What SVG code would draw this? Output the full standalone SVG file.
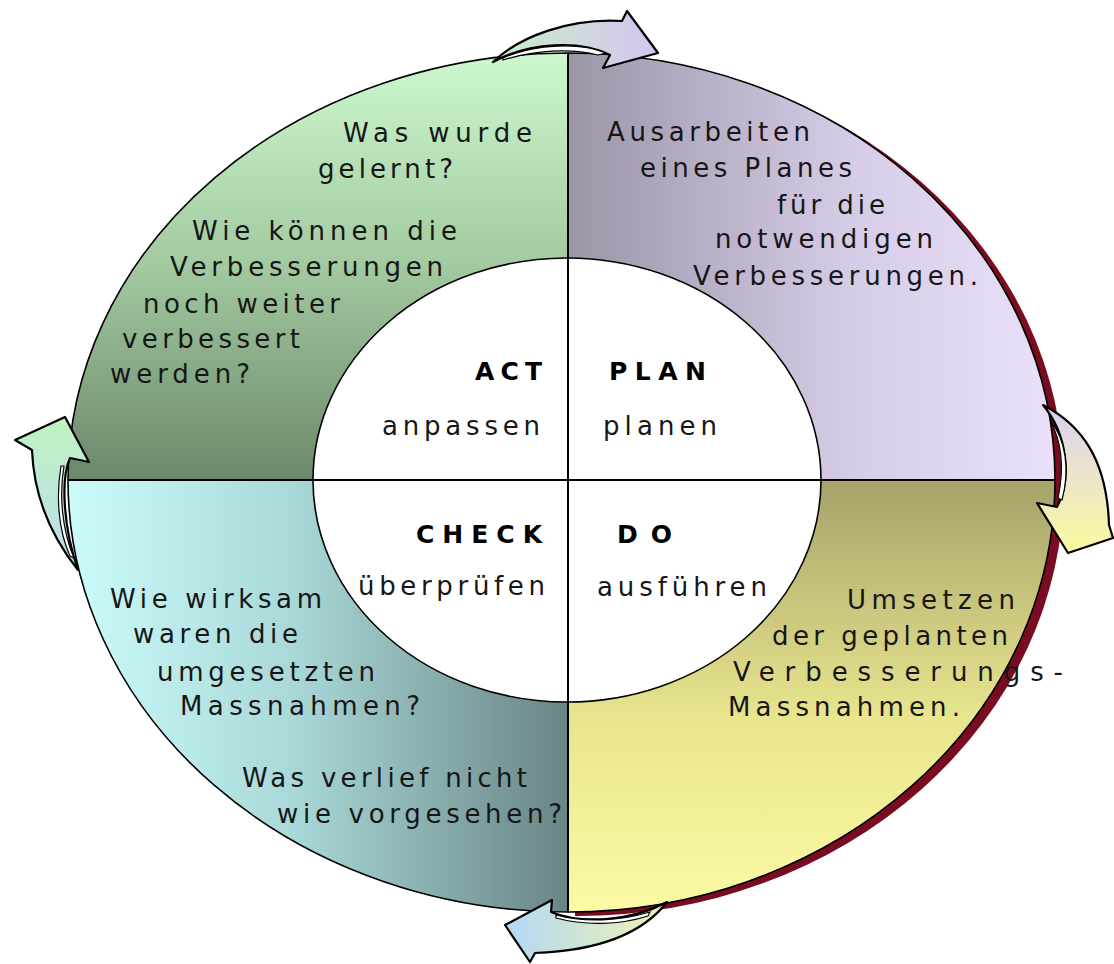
<svg xmlns="http://www.w3.org/2000/svg" width="1114" height="964" viewBox="0 0 1114 964">
<style>
.q{stroke:#000;stroke-width:1.6;stroke-linejoin:round}
.div{stroke:#000;stroke-width:2;fill:none}
.t{font-family:"DejaVu Sans","Liberation Sans",sans-serif;font-size:26px;fill:#161616}
.b{font-family:"DejaVu Sans","Liberation Sans",sans-serif;font-size:25px;font-weight:bold;fill:#000}
.arr{stroke:#000;stroke-width:2.2;stroke-linejoin:round}
.hl{fill:#fff;stroke:#000;stroke-width:1.2}
</style>
<defs>
<clipPath id="rightHalf"><rect x="575" y="0" width="539" height="964"/></clipPath>
<linearGradient id="gTL" x1="0" y1="0" x2="0" y2="1"><stop offset="0" stop-color="#cdf8cd"/><stop offset="0.5" stop-color="#a2c9a0"/><stop offset="1" stop-color="#6c876a"/></linearGradient>
<linearGradient id="gTR" x1="0" y1="0" x2="1" y2="0"><stop offset="0" stop-color="#9b95a7"/><stop offset="0.6" stop-color="#d8cde8"/><stop offset="1" stop-color="#ebe0f9"/></linearGradient>
<linearGradient id="gBL" x1="0" y1="0" x2="1" y2="0"><stop offset="0" stop-color="#cbfbfb"/><stop offset="0.45" stop-color="#a9d8d8"/><stop offset="1" stop-color="#6a8585"/></linearGradient>
<linearGradient id="gBR" x1="0" y1="0" x2="0" y2="1"><stop offset="0" stop-color="#a6a26a"/><stop offset="0.55" stop-color="#e8e58e"/><stop offset="1" stop-color="#fcfaa4"/></linearGradient>
<linearGradient id="aTop" x1="0" y1="0" x2="1" y2="0"><stop offset="0" stop-color="#c6f0c6"/><stop offset="1" stop-color="#d6c4f2"/></linearGradient>
<linearGradient id="aRight" x1="0" y1="0" x2="0" y2="1"><stop offset="0" stop-color="#dcd0f2"/><stop offset="1" stop-color="#fbfb9e"/></linearGradient>
<linearGradient id="aBottom" x1="0" y1="0" x2="1" y2="0"><stop offset="0" stop-color="#b2d8f4"/><stop offset="1" stop-color="#f0f2b4"/></linearGradient>
<linearGradient id="aLeft" x1="0" y1="0" x2="0" y2="1"><stop offset="0" stop-color="#bff3bf"/><stop offset="1" stop-color="#bcdcf2"/></linearGradient>
</defs>
<rect width="1114" height="964" fill="#fff"/>

<g id="shadow" clip-path="url(#rightHalf)">
<path d="M 68,480 A 500 427 0 0 1 568,53 A 487 427 0 0 1 1055,480 A 487 432 0 0 1 568,912 A 500 432 0 0 1 68,480 Z" transform="translate(9,4)" fill="#7a0c22"/>
</g>

<g id="act">
<path class="q" d="M 568,480 L 68,480 A 500 427 0 0 1 568,53 Z" fill="url(#gTL)"/>
</g>
<g id="plan">
<path class="q" d="M 568,480 L 568,53 A 487 427 0 0 1 1055,480 Z" fill="url(#gTR)"/>
</g>
<g id="do">
<path class="q" d="M 568,480 L 1055,480 A 487 432 0 0 1 568,912 Z" fill="url(#gBR)"/>
</g>
<g id="check">
<path class="q" d="M 568,480 L 568,912 A 500 432 0 0 1 68,480 Z" fill="url(#gBL)"/>
</g>

<g id="center">
<ellipse cx="567" cy="480" rx="254" ry="222" fill="#fff" stroke="#000" stroke-width="1.6"/>
<line class="div" x1="568" y1="53" x2="568" y2="912"/>
<line class="div" x1="68" y1="480" x2="1055" y2="480"/>
</g>

<g id="act-text">
<text class="t" x="343" y="142" textLength="189" lengthAdjust="spacing">Was wurde</text>
<text class="t" x="318" y="178" textLength="135" lengthAdjust="spacing">gelernt?</text>
<text class="t" x="192" y="240" textLength="265" lengthAdjust="spacing">Wie können die</text>
<text class="t" x="170" y="276" textLength="273" lengthAdjust="spacing">Verbesserungen</text>
<text class="t" x="143" y="313" textLength="197" lengthAdjust="spacing">noch weiter</text>
<text class="t" x="122" y="348" textLength="178" lengthAdjust="spacing">verbessert</text>
<text class="t" x="110" y="383" textLength="140" lengthAdjust="spacing">werden?</text>
<text class="b" x="475" y="380" textLength="67" lengthAdjust="spacing">ACT</text>
<text class="t" x="382" y="435" textLength="158" lengthAdjust="spacing">anpassen</text>
</g>

<g id="plan-text">
<text class="t" x="607" y="141" textLength="203" lengthAdjust="spacing">Ausarbeiten</text>
<text class="t" x="640" y="177" textLength="212" lengthAdjust="spacing">eines Planes</text>
<text class="t" x="777" y="214" textLength="108" lengthAdjust="spacing">für die</text>
<text class="t" x="715" y="248" textLength="218" lengthAdjust="spacing">notwendigen</text>
<text class="t" x="693" y="285" textLength="285" lengthAdjust="spacing">Verbesserungen.</text>
<text class="b" x="609" y="380" textLength="97" lengthAdjust="spacing">PLAN</text>
<text class="t" x="603" y="435" textLength="114" lengthAdjust="spacing">planen</text>
</g>

<g id="check-text">
<text class="b" x="416" y="543" textLength="126" lengthAdjust="spacing">CHECK</text>
<text class="t" x="358" y="595" textLength="187" lengthAdjust="spacing">überprüfen</text>
<text class="t" x="110" y="608" textLength="212" lengthAdjust="spacing">Wie wirksam</text>
<text class="t" x="133" y="643" textLength="165" lengthAdjust="spacing">waren die</text>
<text class="t" x="157" y="681" textLength="218" lengthAdjust="spacing">umgesetzten</text>
<text class="t" x="180" y="715" textLength="240" lengthAdjust="spacing">Massnahmen?</text>
<text class="t" x="242" y="787" textLength="285" lengthAdjust="spacing">Was verlief nicht</text>
<text class="t" x="277" y="823" textLength="285" lengthAdjust="spacing">wie vorgesehen?</text>
</g>

<g id="do-text">
<text class="b" x="617" y="543" textLength="55" lengthAdjust="spacing">DO</text>
<text class="t" x="597" y="596" textLength="170" lengthAdjust="spacing">ausführen</text>
<text class="t" x="847" y="609" textLength="168" lengthAdjust="spacing">Umsetzen</text>
<text class="t" x="772" y="645" textLength="236" lengthAdjust="spacing">der geplanten</text>
<text class="t" x="733" y="681" textLength="330" lengthAdjust="spacing">Verbesserungs-</text>
<text class="t" x="728" y="716" textLength="232" lengthAdjust="spacing">Massnahmen.</text>
</g>

<g id="connectors">
<path class="arr" fill="url(#aTop)" d="M 493,62 C 520,36 570,18 622,21 L 627,11 L 658,53 L 603,68 L 610,55 C 580,40 530,42 493,62 Z"/>
<path class="hl" d="M 503,58 C 535,44 580,42 606,53 L 598,55 C 570,48 535,50 503,60 Z"/>
<path class="arr" fill="url(#aRight)" d="M 1043,405 C 1082,425 1107,460 1109,525 L 1113,538 L 1068,553 L 1037,503 L 1057,507 C 1072,480 1068,435 1043,405 Z"/>
<path class="hl" d="M 1050,420 C 1066,440 1070,470 1062,500 L 1058,498 C 1064,470 1062,442 1050,420 Z"/>
<path class="arr" fill="url(#aBottom)" d="M 667,902 C 640,937 590,951 535,953 L 530,962 L 505,925 L 552,900 L 551,912 C 580,924 630,922 667,902 Z"/>
<path class="hl" d="M 556,915 C 585,923 620,921 650,912 L 648,916 C 620,925 585,926 556,918 Z"/>
<path class="arr" fill="url(#aLeft)" d="M 78,570 C 54,540 34,500 32,450 L 15,440 L 65,417 L 89,462 L 70,458 C 60,480 64,530 78,570 Z"/>
<path class="hl" d="M 64,466 C 59,495 62,530 74,558 L 70,556 C 58,530 56,495 61,466 Z"/>
</g>
</svg>
